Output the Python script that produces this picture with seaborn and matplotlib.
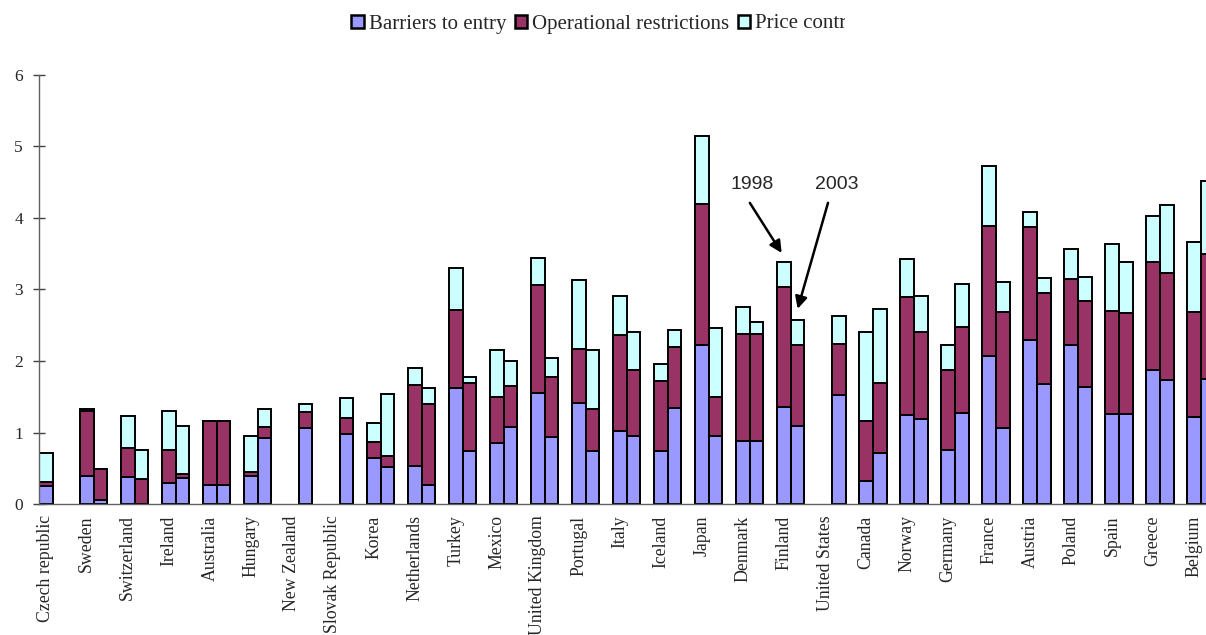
import numpy as np
import pandas as pd
import matplotlib.pyplot as plt
import seaborn as sns
from matplotlib.patches import Patch
from matplotlib.transforms import Bbox, TransformedBbox

# Countries and component values (nan = no bar)
countries = ['Czech republic', 'Sweden', 'Switzerland', 'Ireland', 'Australia', 'Hungary',
             'New Zealand', 'Slovak Republic', 'Korea', 'Netherlands', 'Turkey', 'Mexico',
             'United Kingdom', 'Portugal', 'Italy', 'Iceland', 'Japan', 'Denmark', 'Finland',
             'United States', 'Canada', 'Norway', 'Germany', 'France', 'Austria', 'Poland',
             'Spain', 'Greece', 'Belgium']
nan = np.nan
barriers_1998 = [0.26, 0.40, 0.38, 0.30, 0.27, 0.39, nan, nan, 0.65, 0.54, 1.62, 0.86, 1.56, 1.42,
                 1.03, 0.74, 2.22, 0.88, 1.36, nan, 0.33, 1.25, 0.76, 2.07, 2.30, 2.22, 1.26, 1.87, 1.22]
operational_1998 = [0.05, 0.90, 0.41, 0.46, 0.89, 0.06, nan, nan, 0.22, 1.12, 1.10, 0.64, 1.50, 0.75,
                    1.33, 0.98, 1.97, 1.50, 1.67, nan, 0.83, 1.64, 1.12, 1.82, 1.57, 0.93, 1.44, 1.51, 1.47]
price_1998 = [0.41, 0.03, 0.45, 0.55, 0.01, 0.51, nan, nan, 0.27, 0.24, 0.58, 0.66, 0.38, 0.96,
              0.55, 0.24, 0.96, 0.37, 0.35, nan, 1.24, 0.53, 0.35, 0.84, 0.21, 0.42, 0.94, 0.65, 0.98]
barriers_2003 = [nan, 0.06, 0.00, 0.37, 0.27, 0.92, 1.07, 0.98, 0.52, 0.27, 0.75, 1.08, 0.94, 0.74,
                 0.95, 1.35, 0.95, 0.88, 1.09, 1.53, 0.72, 1.19, 1.28, 1.07, 1.68, 1.64, 1.26, 1.73, 1.75]
operational_2003 = [nan, 0.44, 0.35, 0.05, 0.89, 0.16, 0.22, 0.22, 0.15, 1.13, 0.95, 0.57, 0.84, 0.59,
                    0.93, 0.84, 0.55, 1.50, 1.13, 0.71, 0.97, 1.21, 1.20, 1.61, 1.27, 1.20, 1.41, 1.50, 1.75]
price_2003 = [nan, 0.00, 0.41, 0.67, 0.01, 0.25, 0.11, 0.29, 0.87, 0.23, 0.08, 0.35, 0.26, 0.83,
              0.52, 0.24, 0.96, 0.17, 0.35, 0.39, 1.04, 0.51, 0.60, 0.43, 0.21, 0.34, 0.72, 0.95, 1.02]

# long table: each country gets slots 1998, 2003, gap
rows = []
for i, c in enumerate(countries):
    rows.append([c, '1998', 3 * i, barriers_1998[i], operational_1998[i], price_1998[i]])
    rows.append([c, '2003', 3 * i + 1, barriers_2003[i], operational_2003[i], price_2003[i]])
df = pd.DataFrame(rows, columns=['country', 'year', 'slot', 'barriers', 'operational', 'price'])
df = df.dropna()
df['lower'] = df['barriers']
df['middle'] = df['barriers'] + df['operational']
df['total'] = df['middle'] + df['price']

col_b, col_o, col_p = '#9999FF', '#993366', '#CCFFFF'

sns.set_style('white')
plt.rcParams['font.family'] = ['Liberation Serif', 'DejaVu Serif']

fig = plt.figure(figsize=(12.06, 6.35), dpi=100)
ax = fig.add_axes([0.0323, 0.2058, 0.9677, 0.6766])

for col, colour in [('total', col_p), ('middle', col_o), ('lower', col_b)]:
    sns.barplot(data=df, x='slot', y=col, native_scale=True, width=1, color=colour,
                saturation=1, edgecolor='black', linewidth=1.4, errorbar=None, ax=ax)

ax.set_xlabel('')
ax.set_ylabel('')

# ticks at slot boundaries, labels under each 1998 bar
n_slots = 3 * len(countries)
ax.set_xticks(np.arange(n_slots + 1) - 0.5)
ax.set_xticklabels([])
ax.set_xticks(np.arange(len(countries)) * 3, minor=True)
ax.set_xticklabels(countries, minor=True, rotation=90, fontsize=12.8, va='top', ha='center')
ax.tick_params(axis='x', which='major', direction='out', length=5, width=1, color='#404040')
ax.tick_params(axis='x', which='minor', length=0, pad=8)

ax.set_yticks(range(7))
ax.set_yticklabels([str(v) for v in range(7)], fontsize=12.5)
ax.tick_params(axis='y', direction='inout', length=9, width=1, color='#404040', pad=7, left=True)

# limits after the ticks (set_xticks would widen them); chart is cut off at the right
ax.set_xlim(-0.5, 84.87)
ax.set_ylim(0, 6)

sns.despine(ax=ax)
for s in ['left', 'bottom']:
    ax.spines[s].set_color('#606060')
    ax.spines[s].set_linewidth(1)

# year annotations on Finland
ax.text(51.64, 4.46, '1998', fontsize=14, family=['Liberation Sans', 'DejaVu Sans'],
        ha='center', va='center')
ax.text(57.85, 4.46, '2003', fontsize=14, family=['Liberation Sans', 'DejaVu Sans'],
        ha='center', va='center')
ax.annotate('', xy=(53.83, 3.51), xytext=(51.5, 4.21),
            arrowprops=dict(arrowstyle='-|>', color='black', lw=1.8, mutation_scale=18,
                            shrinkA=0, shrinkB=0))
ax.annotate('', xy=(55.0, 2.73), xytext=(57.22, 4.21),
            arrowprops=dict(arrowstyle='-|>', color='black', lw=1.8, mutation_scale=18,
                            shrinkA=0, shrinkB=0))

handles = [Patch(facecolor=c, edgecolor='black', linewidth=1.8) for c in (col_b, col_o, col_p)]
leg = fig.legend(handles, ['Barriers to entry', 'Operational restrictions', 'Price controls'],
                 loc='center left', bbox_to_anchor=(351 / 1206, 1 - 24 / 635), ncol=3,
                 frameon=False, fontsize=15, handlelength=0.6, handleheight=0.6,
                 handletextpad=0.25, columnspacing=0.4, borderpad=0, borderaxespad=0)
# the reference legend is cut off at the right
clip = TransformedBbox(Bbox([[0, 0], [845 / 1206, 1]]), fig.transFigure)
for t in leg.get_texts():
    t.set_clip_box(clip)
    t.set_clip_on(True)

plt.savefig('out.png', dpi=100)
